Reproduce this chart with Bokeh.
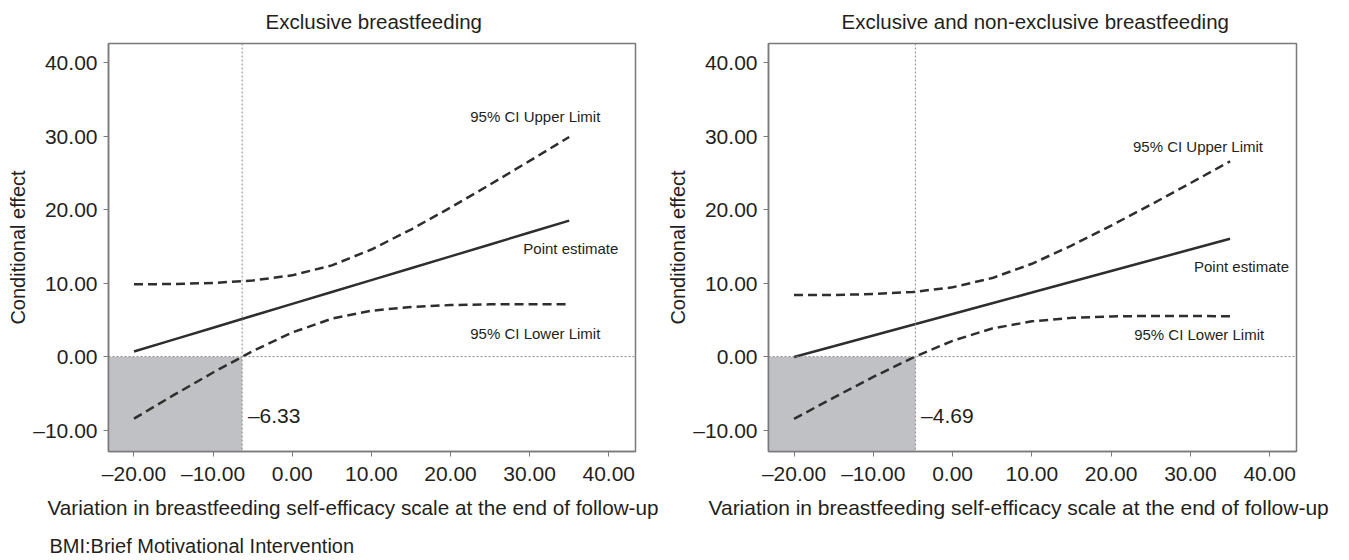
from bokeh.plotting import figure
from bokeh.layouts import row
from bokeh.models import Range1d, FixedTicker, CustomJSTickFormatter, Span, Label, Title
from bokeh.embed import file_html
from bokeh.resources import INLINE

# ---------------- data ----------------
x_vals = [-20, -15, -10, -5, 0, 5, 10, 15, 20, 25, 30, 35]

excl_point = [0.70, 2.32, 3.94, 5.56, 7.18, 8.80, 10.42, 12.04, 13.66, 15.28, 16.90, 18.52]
excl_upper = [9.85, 9.89, 10.04, 10.37, 11.07, 12.43, 14.59, 17.31, 20.30, 23.44, 26.66, 29.92]
excl_lower = [-8.45, -5.25, -2.16, 0.75, 3.29, 5.17, 6.25, 6.77, 7.02, 7.12, 7.14, 7.12]
excl_jn = -6.33

both_point = [-0.05, 1.41, 2.88, 4.34, 5.80, 7.27, 8.73, 10.20, 11.66, 13.12, 14.59, 16.05]
both_upper = [8.38, 8.40, 8.52, 8.81, 9.44, 10.70, 12.65, 15.12, 17.84, 20.70, 23.63, 26.60]
both_lower = [-8.48, -5.58, -2.76, -0.13, 2.16, 3.84, 4.81, 5.28, 5.48, 5.54, 5.55, 5.50]
both_jn = -4.69

x_ticks = [-20, -10, 0, 10, 20, 30, 40]
y_ticks = [-10, 0, 10, 20, 30, 40]

titles = ["Exclusive breastfeeding", "Exclusive and non-exclusive breastfeeding"]
x_label = "Variation in breastfeeding self-efficacy scale at the end of follow-up"
y_label = "Conditional effect"
footnote = "BMI:Brief Motivational Intervention"

# ---------------- style ----------------
X_START, X_END = -23.22, 43.38
Y_START, Y_END = -12.92, 42.65
FONT = "Liberation Sans"
TXT = "#231f20"
LINE = "#2e2e2e"
FRAME = "#7a7a7a"
DOT = "#8a8a8a"
SHADE = "#c0c1c4"

fmt_code = "return (tick < 0 ? '\u2013' : '') + Math.abs(tick).toFixed(2);"


def make_panel(title_text, point, upper, lower, jn, width, border_left, border_right,
               title_offset, xlabel_offset, xlabel_size, label_pos, jn_pos):
    p = figure(width=width, height=560, output_backend="svg", toolbar_location=None,
               x_range=Range1d(X_START, X_END), y_range=Range1d(Y_START, Y_END),
               min_border_left=border_left, min_border_right=border_right,
               min_border_top=43, min_border_bottom=109, title=title_text)
    p.title.align = "left"
    p.title.offset = title_offset
    p.title.vertical_align = "top"
    p.title.standoff = 17
    p.title.text_font = FONT
    p.title.text_font_size = "20.5px"
    p.title.text_font_style = "normal"
    p.title.text_color = TXT

    p.background_fill_color = "white"
    p.border_fill_color = "white"
    p.outline_line_color = FRAME
    p.outline_line_width = 1.5
    p.grid.visible = False

    for ax in (p.xaxis[0], p.yaxis[0]):
        ax.formatter = CustomJSTickFormatter(code=fmt_code)
        ax.major_label_text_font = FONT
        ax.major_label_text_font_size = "21px"
        ax.major_label_text_color = TXT
        ax.axis_line_color = FRAME
        ax.axis_line_width = 1.5
        ax.major_tick_line_color = FRAME
        ax.major_tick_line_width = 1
        ax.major_tick_out = 5
        ax.major_tick_in = 0
        ax.minor_tick_line_color = None
    p.xaxis.ticker = FixedTicker(ticks=x_ticks)
    p.yaxis.ticker = FixedTicker(ticks=y_ticks)
    p.xaxis.major_label_standoff = 5
    p.yaxis.major_label_standoff = 6
    p.yaxis.axis_label = y_label
    p.yaxis.axis_label_text_font = FONT
    p.yaxis.axis_label_text_font_size = "20px"
    p.yaxis.axis_label_text_font_style = "normal"
    p.yaxis.axis_label_text_color = TXT
    p.yaxis.axis_label_standoff = 1

    # x-axis label, placed as a left-aligned caption under the axis
    p.add_layout(Title(text=x_label, align="left", offset=xlabel_offset,
                       vertical_align="top", standoff=17, text_font=FONT,
                       text_font_size=xlabel_size, text_font_style="normal",
                       text_color=TXT), "below")

    # shaded region of non-significance
    p.quad(left=[X_START], right=[jn], bottom=[Y_START], top=[0],
           fill_color=SHADE, line_color=None)

    p.add_layout(Span(location=jn, dimension="height", line_color=DOT,
                      line_dash="2 2", line_width=1))
    p.add_layout(Span(location=0, dimension="width", line_color=DOT,
                      line_dash="2 2", line_width=1))

    p.line(x_vals, upper, line_color=LINE, line_width=2.5, line_dash="9 5")
    p.line(x_vals, lower, line_color=LINE, line_width=2.5, line_dash="9 5")
    p.line(x_vals, point, line_color=LINE, line_width=2.5)

    names = ["95% CI Upper Limit", "Point estimate", "95% CI Lower Limit"]
    for name, (lx, ly) in zip(names, label_pos):
        p.add_layout(Label(x=lx, y=ly, text=name, text_font=FONT, text_font_size="15px",
                           text_color=TXT, text_baseline="middle", text_align="left"))
    p.add_layout(Label(x=jn_pos[0], y=jn_pos[1], text=("\u2013%.2f" % abs(jn)),
                       text_font=FONT, text_font_size="21px", text_color=TXT,
                       text_baseline="middle", text_align="left"))
    return p


p1 = make_panel(titles[0], excl_point, excl_upper, excl_lower, excl_jn,
                width=664, border_left=108, border_right=29, title_offset=157,
                xlabel_offset=-61, xlabel_size="20.7px",
                label_pos=[(22.5, 32.7), (29.2, 14.77), (22.5, 3.18)],
                jn_pos=(-5.6, -8.05))
p1.add_layout(Title(text=footnote, align="left", offset=-59, vertical_align="bottom",
                    standoff=7, text_font=FONT, text_font_size="20px",
                    text_font_style="normal", text_color=TXT), "below")

p2 = make_panel(titles[1], both_point, both_upper, both_lower, both_jn,
                width=685, border_left=104, border_right=53, title_offset=73,
                xlabel_offset=-60, xlabel_size="21px",
                label_pos=[(22.75, 28.66), (30.45, 12.32), (22.9, 2.97)],
                jn_pos=(-3.97, -8.02))

layout = row(p1, p2, spacing=0)
open("out.html", "w").write(file_html(layout, INLINE))
